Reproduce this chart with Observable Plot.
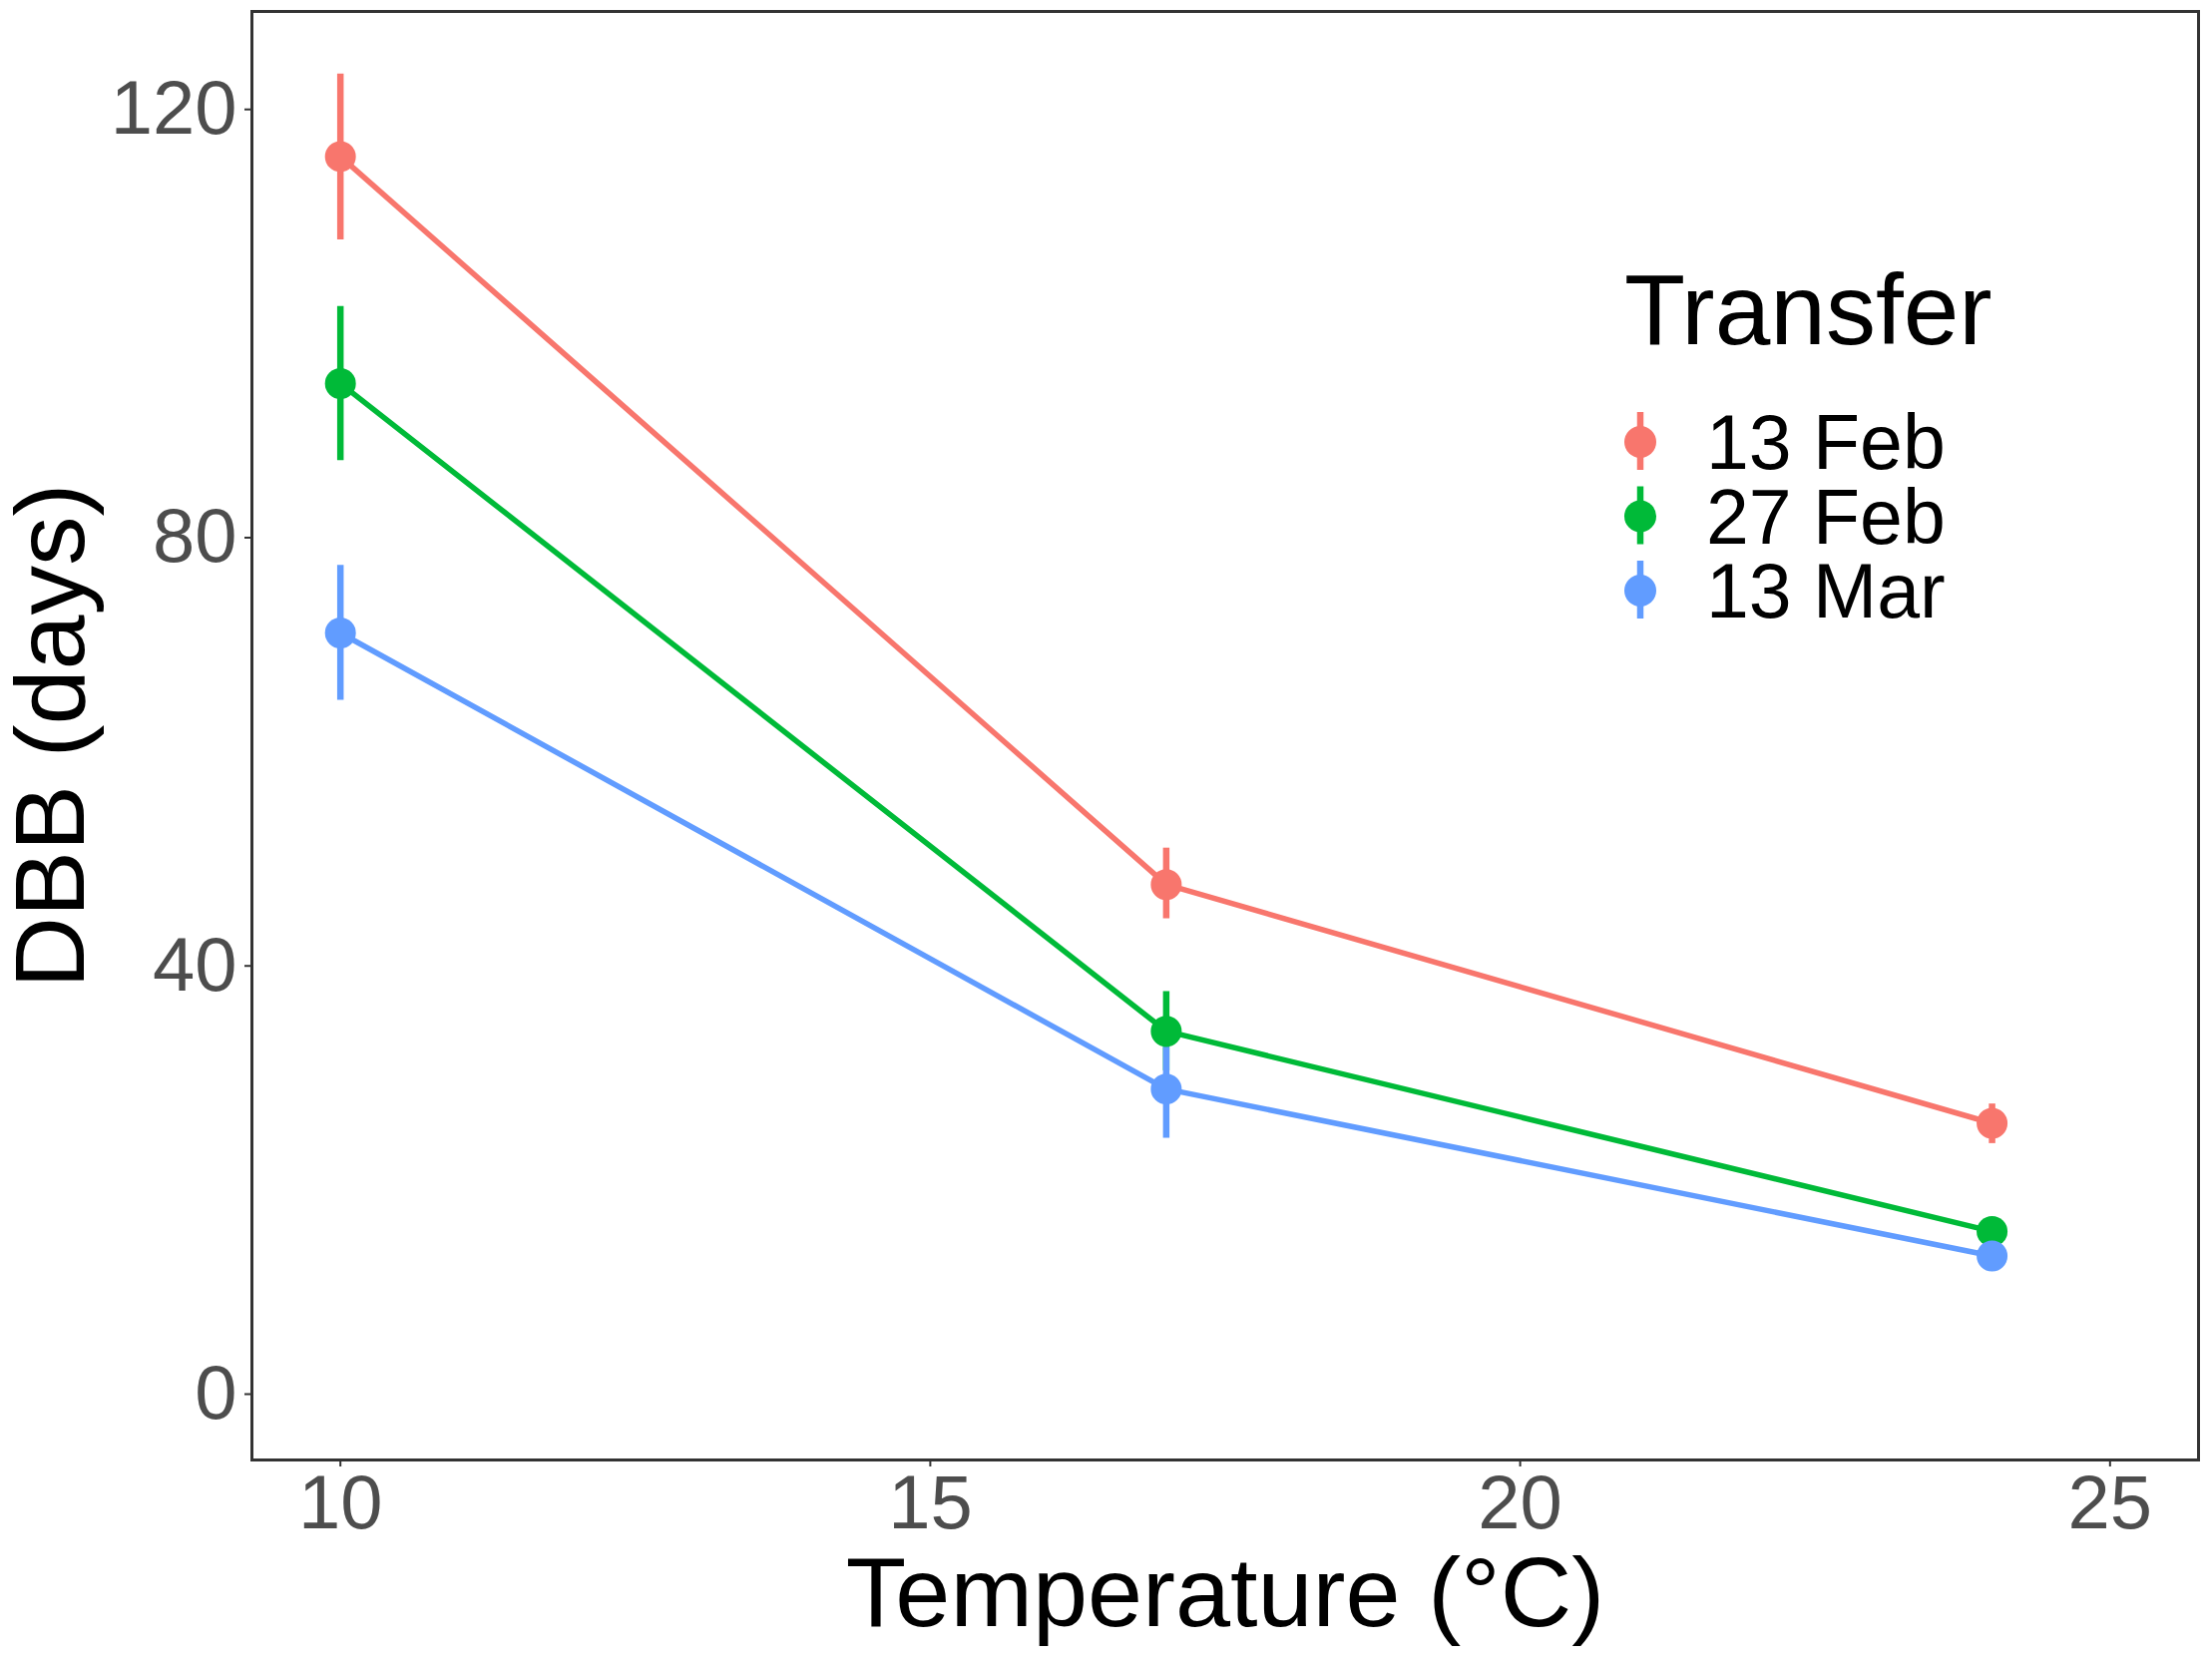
<!DOCTYPE html>
<html>
<head>
<meta charset="utf-8">
<script src="https://cdn.jsdelivr.net/npm/d3@7"></script>
<script src="https://cdn.jsdelivr.net/npm/@observablehq/plot@0.6"></script>
<style>
  html, body { margin: 0; padding: 0; background: white; overflow: hidden; }
</style>
</head>
<body>
<div id="chart"></div>
<script>
const temps = [10, 17, 24];
const transfers = ["13 Feb", "27 Feb", "13 Mar"];
const colors = ["#F8766D", "#00BA38", "#619CFF"];

const mean13Feb  = [115.6, 47.6, 25.3];
const lower13Feb = [107.8, 44.4, 23.4];
const upper13Feb = [123.3, 51.0, 27.1];

const mean27Feb  = [94.4, 33.9, 15.2];
const lower27Feb = [87.2, 30.2, 14.3];
const upper27Feb = [101.6, 37.6, 16.1];

const mean13Mar  = [71.1, 28.5, 12.9];
const lower13Mar = [64.8, 23.9, 12.1];
const upper13Mar = [77.4, 32.4, 13.7];

const xTicks = [10, 15, 20, 25];
const yTicks = [0, 40, 80, 120];

const series = [
  [transfers[0], mean13Feb, lower13Feb, upper13Feb],
  [transfers[1], mean27Feb, lower27Feb, upper27Feb],
  [transfers[2], mean13Mar, lower13Mar, upper13Mar]
];
const rows = series.flatMap(([transfer, m, lo, hi]) =>
  temps.map((t, i) => ({transfer, temp: t, mean: m[i], lower: lo[i], upper: hi[i]}))
);

const font = "'Liberation Sans', Arial, Helvetica, sans-serif";

const plot = Plot.plot({
  width: 2217,
  height: 1665,
  marginLeft: 252,
  marginRight: 14,
  marginTop: 11,
  marginBottom: 202,
  x: {domain: [9.25, 25.75]},
  y: {domain: [-6.15, 129.15]},
  color: {domain: transfers, range: colors},
  style: {fontFamily: font, background: "white"},
  marks: [
    Plot.axisX({ticks: xTicks, tickSize: 7, tickPadding: 8, fontSize: 76, color: "#4D4D4D", stroke: "#333333", strokeWidth: 2, label: null}),
    Plot.axisY({ticks: yTicks, tickSize: 7, tickPadding: 8, fontSize: 76, color: "#4D4D4D", stroke: "#333333", strokeWidth: 2, label: null}),
    Plot.line(rows, {x: "temp", y: "mean", z: "transfer", stroke: "transfer", strokeWidth: 5.5}),
    Plot.ruleX(rows, {x: "temp", y1: "lower", y2: "upper", stroke: "transfer", strokeWidth: 6.5}),
    Plot.dot(rows, {x: "temp", y: "mean", fill: "transfer", r: 15.5}),
    Plot.frame({stroke: "#333333", strokeWidth: 3}),
    Plot.text(["Temperature (°C)"], {frameAnchor: "bottom", textAnchor: "middle", lineAnchor: "bottom", dy: 166, fontSize: 99, fill: "black"}),
    Plot.text(["DBB (days)"], {frameAnchor: "left", textAnchor: "middle", lineAnchor: "middle", rotate: -90, dx: -200, fontSize: 99, fill: "black"})
  ]
});

// Legend drawn into the plot's SVG using the plot's colour scale
const colorScale = plot.scale("color");
const svg = d3.select(plot);
const g = svg.append("g").attr("font-family", font).attr("text-anchor", "start");
g.append("text").attr("x", 1628).attr("y", 345).attr("font-size", 100)
  .attr("text-anchor", "start").attr("fill", "black").text("Transfer");
transfers.forEach((t, i) => {
  const cy = 443 + i * 74.5;
  const c = colorScale.apply(t);
  g.append("line").attr("x1", 1644).attr("x2", 1644).attr("y1", cy - 30).attr("y2", cy + 28)
    .attr("stroke", c).attr("stroke-width", 6.5);
  g.append("circle").attr("cx", 1644).attr("cy", cy).attr("r", 16).attr("fill", c);
  g.append("text").attr("x", 1710).attr("y", cy + 27).attr("font-size", 77)
    .attr("text-anchor", "start").attr("fill", "black").text(t);
});

document.getElementById("chart").appendChild(plot);
</script>
</body>
</html>
